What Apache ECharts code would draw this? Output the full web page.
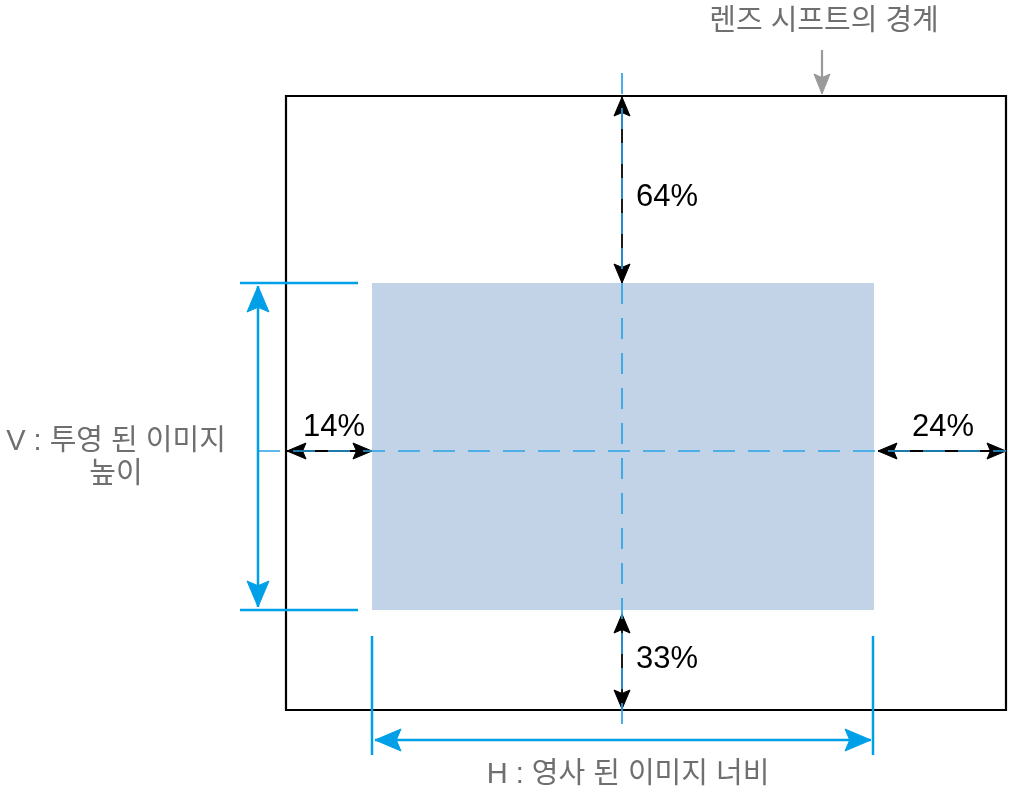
<!DOCTYPE html>
<html>
<head>
<meta charset="utf-8">
<script src="https://cdn.jsdelivr.net/npm/echarts@6/dist/echarts.min.js"></script>
<style>
html,body{margin:0;padding:0;background:#fff;}
#c{width:1021px;height:788px;}
</style>
</head>
<body>
<div id="c"></div>
<script>
// ---- values ----
var shiftNames = ['top', 'bottom', 'left', 'right'];
var shiftPercents = [64, 33, 14, 24];
var titleText = '렌즈 시프트의 경계';
var vLabelLines = ['V : 투영 된 이미지', '높이'];
var hLabelText = 'H : 영사 된 이미지 너비';

// ---- layout (diagram coordinates, in a 1021 x 788 value space) ----
var layout = {
  box: { x0: 286, x1: 1006, y0: 96, y1: 710 },
  img: { x0: 372, x1: 874, y0: 283, y1: 610 },
  cx: 622, cy: 451,
  vDim: { x: 258, ext0: 240, ext1: 358 },
  hDim: { y: 740, ext0: 636, ext1: 755 },
  shiftLabelPos: {
    top: [636, 197, 'left'],
    bottom: [636, 659, 'left'],
    left: [334, 427, 'center'],
    right: [943, 427, 'center']
  },
  titlePos: [824, 22],
  titleArrow: [822, 50, 94],
  vLabelPos: [116, 442, 475],
  hLabelPos: [628, 775]
};

var BLUE = '#00a0e9';
var DASH = '#29a3e6';
var GREY = '#6f6f6f';
var FONT_KR = '"Liberation Sans", Arial, "Noto Sans CJK KR", sans-serif';

function arrowHead(api, tip, dir, len, wid, color) {
  var p = api.coord(tip);
  var dx = dir[0], dy = dir[1];
  var px = -dy, py = dx;
  var bx = p[0] - dx * len, by = p[1] - dy * len;
  var nx = p[0] - dx * len * 0.82, ny = p[1] - dy * len * 0.82;
  return {
    type: 'polygon',
    shape: { points: [[p[0], p[1]], [bx + px * wid / 2, by + py * wid / 2], [nx, ny], [bx - px * wid / 2, by - py * wid / 2]] },
    style: { fill: color, stroke: color, lineWidth: 1, lineJoin: 'miter' }
  };
}
function seg(api, a, b, style) {
  var p = api.coord(a), q = api.coord(b);
  return { type: 'line', shape: { x1: p[0], y1: p[1], x2: q[0], y2: q[1] }, style: style };
}
function dblArrow(api, a, b, color, lw, len, wid) {
  var dx = Math.sign(b[0] - a[0]), dy = Math.sign(b[1] - a[1]);
  return [
    seg(api, a, b, { stroke: color, lineWidth: lw }),
    arrowHead(api, b, [dx, dy], len, wid, color),
    arrowHead(api, a, [-dx, -dy], len, wid, color)
  ];
}
function txt(api, s, pos, color, size, align) {
  var c = api.coord(pos);
  return { type: 'text', style: { text: s, x: c[0], y: c[1], fill: color, fontSize: size, fontFamily: FONT_KR, align: align, verticalAlign: 'middle' } };
}

function renderDiagram(params, api) {
  var L = layout, B = L.box, I = L.img;
  var els = [];
  var p0 = api.coord([I.x0, I.y0]), p1 = api.coord([I.x1, I.y1]);
  els.push({ type: 'rect', shape: { x: p0[0], y: p0[1], width: p1[0] - p0[0], height: p1[1] - p0[1] }, style: { fill: '#c3d3e7' } });
  var b0 = api.coord([B.x0, B.y0]), b1 = api.coord([B.x1, B.y1]);
  els.push({ type: 'rect', shape: { x: b0[0], y: b0[1], width: b1[0] - b0[0], height: b1[1] - b0[1] }, style: { fill: 'none', stroke: '#000', lineWidth: 2.2 } });

  // black shift arrows (under dashes)
  els = els.concat(dblArrow(api, [L.cx, B.y0 + 1], [L.cx, I.y0], '#000', 1.8, 19, 16));
  els = els.concat(dblArrow(api, [L.cx, I.y1 + 4], [L.cx, B.y1 - 1], '#000', 1.8, 19, 16));
  els = els.concat(dblArrow(api, [B.x0 + 1, L.cy], [I.x0, L.cy], '#000', 1.8, 19, 16));
  els = els.concat(dblArrow(api, [I.x1 + 4, L.cy], [B.x1, L.cy], '#000', 1.8, 19, 16));

  // dashed centre lines
  els.push(seg(api, [L.cx, 73], [L.cx, 736], { stroke: DASH, lineWidth: 1.7, lineDash: [21, 14] }));
  els.push(seg(api, [258, L.cy], [1006, L.cy], { stroke: DASH, lineWidth: 1.7, lineDash: [22, 13] }));

  // V dimension
  els.push(seg(api, [L.vDim.ext0, I.y0], [L.vDim.ext1, I.y0], { stroke: BLUE, lineWidth: 2.5 }));
  els.push(seg(api, [L.vDim.ext0, I.y1], [L.vDim.ext1, I.y1], { stroke: BLUE, lineWidth: 2.5 }));
  els = els.concat(dblArrow(api, [L.vDim.x, I.y0 + 3], [L.vDim.x, I.y1 - 3], BLUE, 2.5, 26, 22));
  // H dimension
  els.push(seg(api, [I.x0, L.hDim.ext0], [I.x0, L.hDim.ext1], { stroke: BLUE, lineWidth: 2.5 }));
  els.push(seg(api, [I.x1 - 1, L.hDim.ext0], [I.x1 - 1, L.hDim.ext1], { stroke: BLUE, lineWidth: 2.5 }));
  els = els.concat(dblArrow(api, [I.x0 + 3, L.hDim.y], [I.x1 - 3, L.hDim.y], BLUE, 2.5, 26, 22));

  // title arrow (grey)
  var ta = L.titleArrow;
  els.push(seg(api, [ta[0], ta[1]], [ta[0], ta[2] - 12], { stroke: '#9a9a9a', lineWidth: 2.2 }));
  els.push(arrowHead(api, [ta[0], ta[2]], [0, 1], 20, 16, '#9a9a9a'));

  // shift labels
  for (var i = 0; i < shiftNames.length; i++) {
    var lp = L.shiftLabelPos[shiftNames[i]];
    els.push(txt(api, shiftPercents[i] + '%', [lp[0], lp[1]], '#000', 31, lp[2]));
  }
  // grey texts
  els.push(txt(api, titleText, L.titlePos, GREY, 29, 'center'));
  els.push(txt(api, vLabelLines[0], [L.vLabelPos[0], L.vLabelPos[1]], GREY, 29, 'center'));
  els.push(txt(api, vLabelLines[1], [L.vLabelPos[0], L.vLabelPos[2]], GREY, 29, 'center'));
  els.push(txt(api, hLabelText, L.hLabelPos, GREY, 29, 'center'));

  return { type: 'group', children: els };
}

var chart = echarts.init(document.getElementById('c'), null, { renderer: 'canvas' });
chart.setOption({
  backgroundColor: '#fff',
  animation: false,
  grid: { left: 0, right: 0, top: 0, bottom: 0 },
  xAxis: { type: 'value', min: 0, max: 1021, show: false },
  yAxis: { type: 'value', min: 0, max: 788, inverse: true, show: false },
  series: [{
    type: 'custom',
    coordinateSystem: 'cartesian2d',
    data: [[0, 0]],
    renderItem: renderDiagram,
    silent: true
  }]
});
</script>
</body>
</html>
